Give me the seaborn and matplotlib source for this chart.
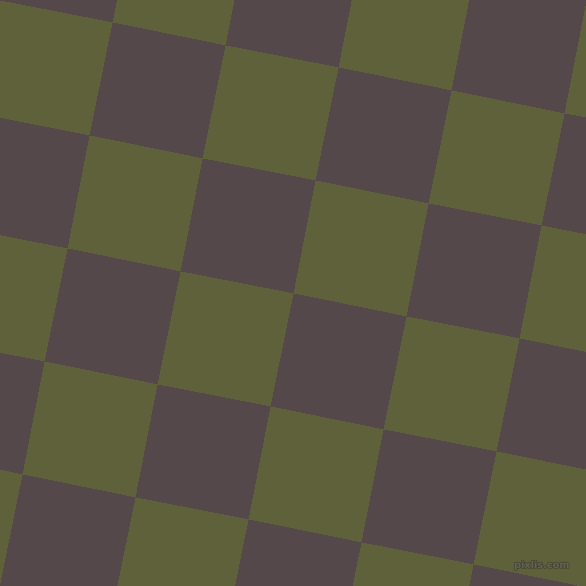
import matplotlib
matplotlib.use("Agg")
import matplotlib.pyplot as plt
import matplotlib.transforms as mtransforms
import matplotlib.patheffects as pe
import numpy as np
import seaborn as sns

# checkerboard cells (row, col) relative to the square whose top-left corner is at (113, 23)
rows = list(range(-2, 7))
cols = list(range(-2, 7))
colors = ["#55484B", "#5F613B"]  # mauve, olive
watermark = "pixlis.com"

cells = np.array([[(r + c) % 2 for c in cols] for r in rows])

fig = plt.figure(figsize=(5.86, 5.86), dpi=100)
ax = fig.add_axes([0, 0, 1, 1])
sns.heatmap(cells, cmap=sns.color_palette(colors, as_cmap=True), cbar=False,
            linewidths=0, ax=ax, vmin=0, vmax=1)

# square side ~115 px, tilted ~11.3 degrees
a, b = 112.92, 22.56
ox, oy = 113.0, 23.3
tr = mtransforms.Affine2D.from_values(a, b, -b, a,
                                      ox + a * cols[0] - b * rows[0],
                                      oy + b * cols[0] + a * rows[0])
mesh = ax.collections[0]
mesh.set_transform(tr + ax.transData)

ax.set_xlim(0, 586)
ax.set_ylim(586, 0)
ax.axis("off")

fig.text(542 / 586, 1 - 565 / 586, watermark, fontsize=7, fontweight="bold",
         color="#626255", ha="center", va="center",
         path_effects=[pe.withStroke(linewidth=1.0, foreground="#44452f")])

fig.savefig("out.png", dpi=100)
